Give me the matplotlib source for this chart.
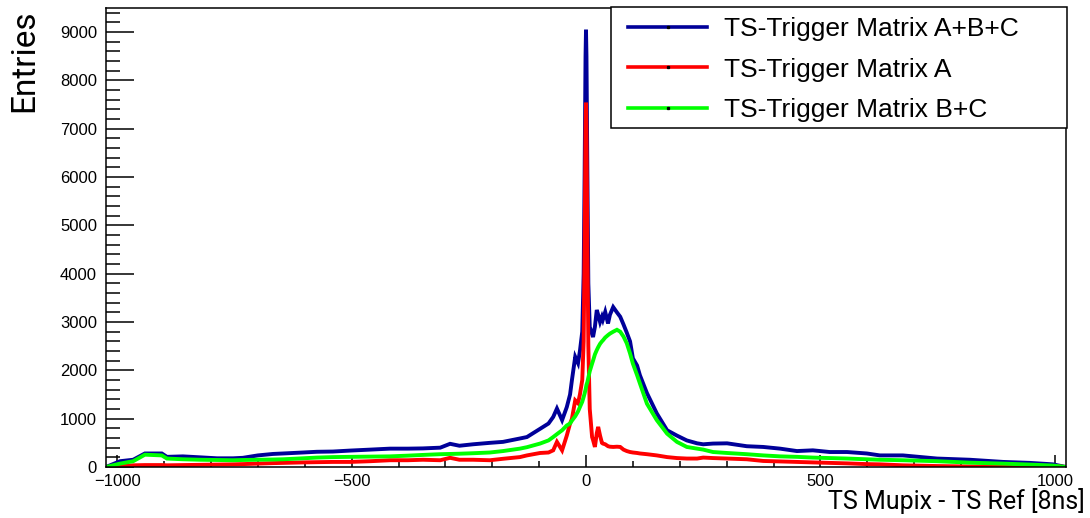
import numpy as np
import matplotlib
matplotlib.use("Agg")
import matplotlib.pyplot as plt
from matplotlib.ticker import MultipleLocator
from matplotlib.lines import Line2D
from matplotlib.patches import Rectangle

# bin positions [8ns] and entries
ts_diff = [-1024, -994, -966, -941, -905, -894, -860, -823, -787, -753, -732, -700,
           -668, -646, -604, -574, -540, -503, -460, -418, -380, -348, -311, -290,
           -270, -241, -205, -177, -141, -126, -98, -80, -70, -62, -51, -41, -34,
           -30, -23, -17, -13, -8, -5, -3, -1, 0, 1, 3, 5, 8, 13, 15, 19, 23, 26,
           30, 34, 36, 41, 47, 51, 58, 66, 73, 80, 87, 94, 100, 109, 115, 130, 151,
           173, 194, 215, 237, 250, 271, 301, 343, 378, 414, 450, 484, 520, 557,
           599, 627, 676, 749, 819, 890, 947, 996, 1024]

entries_abc = [0, 120, 150, 280, 280, 210, 220, 200, 180, 180, 190, 240,
               270, 280, 300, 315, 320, 340, 360, 380, 380, 385, 400, 480,
               440, 470, 500, 520, 590, 620, 790, 900, 1035, 1210, 970, 1240, 1500,
               1800, 2280, 2150, 2400, 2800, 4000, 6000, 8500, 9050, 8500, 6000, 3800, 2900, 2750, 2690, 2900, 3250, 3150,
               3000, 3110, 3050, 3210, 2970, 3150, 3310, 3200, 3110, 2950, 2780, 2600, 2250, 2100, 1900, 1530, 1110,
               760, 650, 550, 490, 470, 485, 490, 430, 415, 380, 330, 345, 310, 310,
               280, 240, 240, 175, 150, 105, 85, 55, 0]

entries_a = [0, 15, 35, 40, 40, 35, 40, 45, 50, 55, 60, 70,
             80, 85, 95, 100, 105, 105, 120, 140, 140, 150, 140, 190,
             150, 150, 140, 170, 205, 240, 290, 300, 345, 520, 345, 650, 900,
             1000, 1380, 1320, 1500, 1800, 2600, 4500, 7000, 7540, 7000, 4500, 2500, 1200, 620, 560, 415, 700, 830,
             650, 500, 485, 470, 430, 420, 415, 420, 415, 360, 330, 310, 300, 290, 280, 265, 240,
             205, 185, 175, 175, 195, 185, 175, 160, 125, 115, 105, 95, 85, 75,
             60, 55, 35, 20, 10, 5, 10, 20, 0]

entries_bc = [0, 70, 120, 255, 240, 175, 160, 150, 145, 140, 145, 150,
              155, 160, 180, 195, 205, 210, 215, 220, 235, 250, 265, 270,
              275, 285, 300, 330, 380, 410, 485, 550, 620, 680, 760, 860, 900,
              960, 1050, 1150, 1240, 1350, 1450, 1520, 1600, 1650, 1700, 1760, 1850, 1980, 2140, 2200, 2330, 2420, 2480,
              2550, 2600, 2620, 2680, 2730, 2760, 2800, 2840, 2800, 2700, 2560, 2350, 2140, 1900, 1730, 1310, 970,
              690, 520, 415, 380, 360, 310, 290, 265, 240, 220, 210, 195, 185, 175,
              160, 150, 140, 120, 90, 70, 50, 30, 0]

labels = ["TS-Trigger Matrix A+B+C", "TS-Trigger Matrix A", "TS-Trigger Matrix B+C"]
colors = ["#000099", "#ff0000", "#00ff00"]

fig = plt.figure(figsize=(10.9, 5.18), dpi=100)
ax = fig.add_axes([106 / 1090, 51 / 518, 960 / 1090, 459 / 518])

handles = []
for y, lab, c in zip([entries_abc, entries_a, entries_bc], labels, colors):
    ax.plot(ts_diff, y, color=c, lw=2.8, solid_joinstyle="miter")
    handles.append(Line2D([], [], color=c, lw=2.6, marker="s", markersize=1.4,
                          markerfacecolor="black", markeredgecolor="black", label=lab))

ax.set_xlim(-1024, 1024)
ax.set_ylim(0, 9500)

ax.xaxis.set_major_locator(MultipleLocator(500))
ax.xaxis.set_minor_locator(MultipleLocator(100))
ax.yaxis.set_major_locator(MultipleLocator(1000))
ax.yaxis.set_minor_locator(MultipleLocator(200))

tickfont = "Liberation Sans"
ax.tick_params(axis="both", which="both", direction="in", width=1.1, top=False, right=False)
ax.tick_params(axis="y", which="major", length=20, pad=6.5, labelsize=12)
ax.tick_params(axis="y", which="minor", length=10)
ax.tick_params(axis="x", which="major", length=8.6, pad=5, labelsize=12)
ax.tick_params(axis="x", which="minor", length=4.3)
for lbl in ax.get_xticklabels() + ax.get_yticklabels():
    lbl.set_fontfamily(tickfont)

for s in ax.spines.values():
    s.set_linewidth(1.1)

fig.text(1085 / 1090, 9 / 518, "TS Mupix - TS Ref [8ns]", ha="right", va="baseline",
         fontsize=18, family="Roboto")
fig.text(24 / 1090, 1 - 10 / 518, "Entries", rotation=90, ha="center", va="top",
         fontsize=24, family="Roboto")

# legend box (ROOT style: fixed size, square corners)
box = Rectangle(((611 - 106) / 960, (467 - 128) / 459), (1067 - 611) / 960, 121 / 459,
                transform=ax.transAxes, facecolor="white", edgecolor="black",
                lw=1.1, clip_on=False, zorder=5)
ax.add_patch(box)
leg = ax.legend(handles=handles, loc="upper left", bbox_to_anchor=((628 - 106) / 960, (467 - 17) / 459),
                borderaxespad=0, borderpad=0, frameon=False, numpoints=1,
                prop={"family": "Liberation Sans", "size": 19}, handlelength=3.0,
                handletextpad=0.65, labelspacing=0.63)
leg.set_zorder(6)

fig.savefig("out.png", dpi=100)
